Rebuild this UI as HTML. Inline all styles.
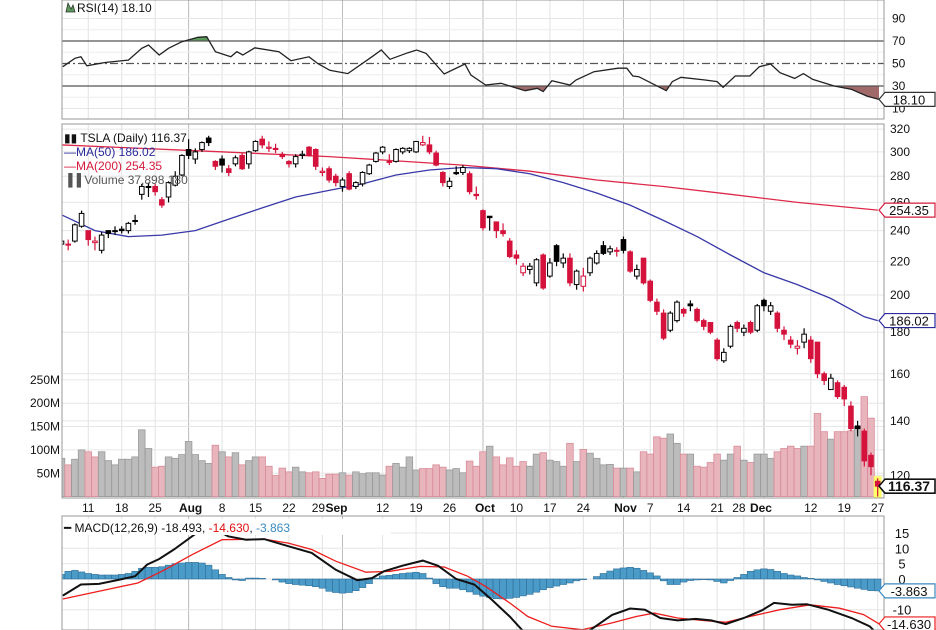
<!DOCTYPE html>
<html><head><meta charset="utf-8"><style>
html,body{margin:0;padding:0;background:#fff;}
svg{display:block;font-family:"Liberation Sans",Arial,sans-serif;}
</style></head><body>
<svg id="chart" width="936" height="630" viewBox="0 0 936 630" xmlns="http://www.w3.org/2000/svg">
<defs>
<clipPath id="cR"><rect x="62" y="0" width="822" height="119"/></clipPath>
<clipPath id="cP"><rect x="62" y="124" width="822" height="374"/></clipPath>
<clipPath id="cM"><rect x="62" y="516" width="822" height="114"/></clipPath>
<clipPath id="cLow"><rect x="62" y="86" width="822" height="40"/></clipPath>
<clipPath id="cHigh"><rect x="62" y="0" width="822" height="41"/></clipPath>
</defs>
<g id="grid"></g>
<g id="rsi" clip-path="url(#cR)"></g>
<g id="vol" clip-path="url(#cP)"></g>
<g id="price" clip-path="url(#cP)"></g>
<g id="macd" clip-path="url(#cM)"></g>
<g id="axes"></g>
</svg>
<script>
const closes=[233,231,244,252,234,233,237,238,240,240,245,247,272,272,268,258,275,280,297,297,300,308,308,288,289,283,295,286,300,309,306,304,302,296,290,296,298,297,288,284,277,275,277,270,275,283,289,299,304,292,302,303,303,309,308,300,289,275,276,282,287,268,265,242,249,240,238,223,222,217,217,221,204,219,220,222,207,214,211,222,225,225,228,227,227,214,215,207,197,191,177,190,196,190,194,186,183,180,167,170,183,182,182,180,194,194,194,182,179,174,173,179,167,160,157,158,150,149,137,137,125,123,116.37];
const opens=[231,231,233,243,240,232,227,240,240,241,240,247,266,272,272,262,264,273,281,302,294,302,312,292,294,286,290,297,290,301,311,303,303,298,292,290,297,304,302,283,286,280,272,282,272,274,282,292,300,292,292,300,301,300,306,306,299,283,272,283,283,282,266,254,250,246,240,233,224,213,215,207,224,211,230,219,222,206,205,213,219,230,226,227,234,226,211,222,208,196,190,181,186,192,195,192,186,185,176,166,173,185,180,185,181,197,191,190,181,176,172,175,176,175,160,153,156,154,146,138,136,127,118];
const highs=[234,234,245,254,240,236,239,240,243,243,246,251,274,275,274,264,276,284,298,311,303,309,314,293,297,289,297,299,301,310,314,309,307,300,293,298,301,305,303,287,288,282,279,284,276,284,290,300,305,298,303,304,304,309,314,313,301,284,279,288,289,284,272,255,250,246,245,235,227,219,219,222,225,222,231,225,225,215,216,223,227,233,230,229,236,227,218,222,209,198,192,191,197,193,197,193,187,185,177,172,184,186,184,186,195,198,196,191,183,178,176,182,178,175,161,160,157,155,148,140,137,128,119];
const lows=[225,227,232,242,230,227,225,235,237,238,238,244,262,264,265,256,260,272,280,294,290,300,305,285,283,280,288,285,286,300,303,300,299,294,287,287,294,296,285,280,275,272,268,269,270,272,281,291,298,289,291,298,299,299,305,298,288,272,270,281,281,266,262,240,240,235,236,222,218,211,212,205,203,210,217,216,205,203,202,211,218,224,224,223,225,213,209,206,196,189,176,180,185,188,191,185,181,179,166,165,172,180,178,179,180,191,189,180,176,172,169,172,165,158,155,153,149,146,136,134,123,120,113];
const volumes=[82,68,80,100,96,85,96,77,68,80,80,85,143,103,63,65,85,82,90,118,90,77,71,110,96,85,94,68,77,85,85,65,45,61,53,63,53,51,53,39,48,48,51,46,53,49,51,51,46,65,71,63,85,57,60,60,68,63,57,60,51,76,65,96,108,85,68,83,65,75,65,91,94,78,75,65,114,75,101,93,82,68,69,61,61,61,53,96,91,128,125,134,114,91,91,65,63,73,91,78,91,108,78,73,91,91,82,96,103,108,103,108,108,178,139,123,139,139,141,150,214,168,38];
const ma50Idx=[0,5,10,15,20,25,30,35,40,45,50,55,60,65,70,75,80,85,90,95,100,105,110,115,120,122];
const ma50Val=[251,240,236,237,240,248,256,264,269,274,281,285,287,286,282,275,267,258,247,236,224,213,206,198,188,186.02];
const ma200Idx=[0,20,40,60,70,80,90,100,110,122];
const ma200Val=[306,301,296,289,284,277,272,266,260,254.35];
const rsiIdx=[0.2,2,2.9,3.8,6.5,10,12,13,14.6,16,18,20.4,21.7,23,25.3,26.2,27.1,28.9,32.5,34.3,37,38.3,40.1,42.8,46.4,47.8,49.1,51.8,53.1,54.5,57.2,60.3,61.2,63.4,65.7,69.3,71.1,72,73.3,76,76.9,79.6,83.2,84.5,85.4,86.3,90.4,91.3,92.6,96.2,98,98.9,100.7,102.9,104.3,106,107.4,109.6,110.9,112.3,115.5,118.1,120.4,122.2];
const rsiVal=[47.2,54.6,56,48,50.9,53,63.5,66.4,57.6,63.5,69.4,73.3,73.8,60.5,56,60.5,57.6,64,60.5,52.5,56,50,44,41,56,62,53.7,59.6,62,59,40.7,49.6,39.8,30.9,32.4,25.8,28,25,34.7,30.9,35.3,42.7,45.8,45.8,38.9,38.3,25.8,33.9,37.7,35.3,33.9,28.8,38.9,38.9,47.2,49.6,41.8,36.8,41,35.9,30,27,21,18.1];
const macdIdx=[0.2,2.9,5.6,8.7,11,12.8,14.6,16.8,19.9,22.2,24.9,27.6,30.3,33.9,37.4,41,44.2,46.4,48.2,50.9,54,56.3,59,61.7,64.3,67,68.8,71.5,75,79.1,82.3,85,87.2,89.5,92.1,94.8,97.1,99.3,102,104.7,106.5,109.2,111.4,114.6,118.1,120.8,122.2];
const macdVal=[-5.4,-1.8,-1.6,-0.2,0.9,4.7,6.5,9.6,14.5,17,13.9,12.8,13,10.7,8.5,3,-0.4,0.3,2.5,4.3,6,4.3,0,-1.8,-6.7,-12.2,-16.5,-20,-21,-16.5,-11.7,-9.6,-10,-12.7,-13.5,-13,-13.5,-14.7,-12.7,-10.2,-7.8,-8.4,-8.2,-10,-12.7,-15.4,-18.5];
const sigIdx=[0.2,5.6,11.4,15,19.5,24,30.3,33.9,37.4,41,45.5,49.1,53.6,57.2,60.7,63.4,67,69.7,73.3,77.8,82.3,85.9,88.6,92.1,95.7,99.3,102.9,107.4,111.9,116.3,119.9,122.2];
const sigVal=[-6.5,-4,-1.3,2.5,7.9,12.8,13,11.7,9.6,5.8,2.2,2.5,4.1,3.9,0.9,-2.4,-7.8,-12.2,-15.4,-16.5,-14.3,-12.2,-11.1,-12.7,-13.5,-14.1,-12.2,-10,-8.4,-9.5,-11.6,-14.6];
const hist=[1.5,2.5,2.8,2.3,1.8,1.5,1.3,1.3,1.3,1.5,1.8,2.5,3.5,3.8,3.8,4,4.5,5,5.2,5.4,5.4,5.2,4.5,3,1.5,0.5,-0.3,-0.5,0.3,0.3,0.2,0,-0.3,-1,-1.5,-1.8,-2,-2.2,-2.5,-3,-4,-4.4,-4.6,-4.4,-3.8,-2.8,-1.5,0.3,1,1.2,1.5,1.8,2,2.2,1.8,0.3,-1.5,-2.5,-3,-3,-3.5,-4.2,-5,-5.6,-6,-6.4,-6.5,-6.3,-6,-5.5,-5,-4.3,-3.5,-2.8,-2.3,-1.8,-1.3,-0.6,-0.2,0,0.8,1.8,2.6,3.3,3.6,3.8,3.5,2.8,2,1,-0.6,-1.8,-1.8,-1,-0.5,-0.3,-0.2,-0.3,-0.8,-1.3,-0.5,0.5,1.5,2.5,3,3.3,3.1,2.5,1.8,1.3,1,0.5,0.2,-0.3,-0.8,-1.3,-1.8,-2.2,-2.6,-3,-3.4,-3.8,-3.863];
const weekIdx=[4,9,14,19,24,29,34,39,42,48,53,58,63,68,73,78,84,88,93,98,102,105,112,117,122];
const weekLbl=["11","18","25","Aug","8","15","22","29","Sep","12","19","26","Oct","10","17","24","Nov","7","14","21","28","Dec","12","19","27"];
const priceTicks=[320,300,280,260,240,220,200,180,160,140,120];
const volTicks=[250,200,150,100,50];
const rsiTicks=[90,70,50,30,10];
const macdTicks=[15,10,5,0,-10];

const NS="http://www.w3.org/2000/svg";
const X=i=>61.5+6.69*i;
const yP=p=>295-353*Math.log(p/200);
const yV=v=>496.6-0.467*v;
const yR=v=>86-(v-30)*1.125;
const yM=v=>579-3.07*v;
function mk(tag,attrs,parent,txt){const e=document.createElementNS(NS,tag);for(const k in attrs)e.setAttribute(k,attrs[k]);if(txt!==undefined)e.textContent=txt;parent.appendChild(e);return e;}
const G=id=>document.getElementById(id);
const grid=G('grid'),rsi=G('rsi'),vol=G('vol'),price=G('price'),macd=G('macd'),axes=G('axes');
const monthLbl={"Aug":1,"Sep":1,"Oct":1,"Nov":1,"Dec":1};
const lblShift={"29":-4,"Sep":-6,"28":-5,"Dec":-3};

weekIdx.forEach((wi,k)=>{const x=X(wi);const dark=monthLbl[weekLbl[k]];
 [[0,119],[124,498],[516,630]].forEach(r=>{const l=mk('line',{x1:x,x2:x,y1:r[0],y2:r[1],stroke:dark?'#bbb':'#e2e2e2','stroke-width':1},grid);
 
 });
 const sh=(lblShift[weekLbl[k]]||0)+(dark&&!lblShift[weekLbl[k]]?2:0);
 const t=mk('text',{x:x+sh,y:512,'font-size':12,'text-anchor':'middle','font-weight':dark?'bold':'normal',fill:'#111'},axes,weekLbl[k]);
 
 
});
priceTicks.forEach(p=>{const y=yP(p);const l=mk('line',{x1:62,x2:884,y1:y,y2:y,stroke:'#e6e6e6'},grid);
 
 
 const t=mk('text',{x:890,y:y+4,'font-size':12,fill:'#111'},axes,String(p));
 
 });
volTicks.forEach(v=>{const y=yV(v);const l=mk('line',{x1:62,x2:884,y1:y,y2:y,stroke:'#e6e6e6'},grid);
 
 
 const t=mk('text',{x:60,y:y+4,'font-size':12,'text-anchor':'end',fill:'#111'},axes,v+'M');
 
 });
rsiTicks.forEach(v=>{const y=yR(v);
 const t=mk('text',{x:892,y:y+4,'font-size':12,fill:'#111'},axes,String(v));
 
 
 if(v===90||v===10){const l=mk('line',{x1:62,x2:884,y1:y,y2:y,stroke:'#e6e6e6'},grid);
 
 }});
[20,40,60,80].forEach(v=>{const l=mk('line',{x1:62,x2:884,y1:yR(v),y2:yR(v),stroke:'#eee'},grid);
 
 });
macdTicks.forEach(v=>{const y=yM(v);const l=mk('line',{x1:62,x2:884,y1:y,y2:y,stroke:'#e6e6e6'},grid);
 
 
 const t=mk('text',{x:902,y:y+5,'font-size':13,'text-anchor':'middle',fill:'#111'},axes,String(v));
 
 });
[[62,0,822,119],[62,124,822,374],[62,516,822,114]].forEach(r=>{const f=mk('rect',{x:r[0],y:r[1],width:r[2],height:r[3],fill:'none',stroke:'#999'},axes);
 
 });

function pathOf(idx,val,yf){return idx.map((i,k)=>(k?'L':'M')+X(i).toFixed(1)+','+yf(val[k]).toFixed(1)).join(' ');}
const rp=pathOf(rsiIdx,rsiVal,yR);
const x0=X(rsiIdx[0]),x1=X(rsiIdx[rsiIdx.length-1]);
const fl=mk('path',{d:rp+` L${x1},${yR(30)} L${x0},${yR(30)} Z`,fill:'#a06a6a','clip-path':'url(#cLow)'},rsi);


const fh=mk('path',{d:rp+` L${x1},${yR(70)} L${x0},${yR(70)} Z`,fill:'#5a9a5a','clip-path':'url(#cHigh)'},rsi);


[[70,'none'],[30,'none'],[50,'8,3,2,3']].forEach(a=>{const l=mk('line',{x1:62,x2:884,y1:yR(a[0]),y2:yR(a[0]),stroke:'#555','stroke-width':1.3,'stroke-dasharray':a[1]},rsi);
 
 });
const rl=mk('path',{d:rp,fill:'none',stroke:'#222','stroke-width':1.3},rsi);



volumes.forEach((v,i)=>{const red=i>0&&closes[i]<closes[i-1];const y=yV(v);
 const b=mk('rect',{x:X(i)-3.3,y:y,width:6.6,height:496.6-y,fill:red?'#e8b5bd':'#bcbcbc',stroke:red?'#d98c98':'#9a9a9a','stroke-width':0.8},vol);
 
 });

const m200=mk('path',{d:pathOf(ma200Idx,ma200Val,yP),fill:'none',stroke:'#dd2a4a','stroke-width':1.3},price);


const m50=mk('path',{d:pathOf(ma50Idx,ma50Val,yP),fill:'none',stroke:'#3838a8','stroke-width':1.3},price);



const hl=mk('rect',{x:X(122)-4,y:yP(highs[122])-2,width:8,height:yP(lows[122])-yP(highs[122])+4,fill:'#ffff66'},price);


closes.forEach((c,i)=>{const o=opens[i];const red=i>0&&c<closes[i-1];const col=red?'#d4123c':'#000';const x=X(i);
 const w=mk('line',{x1:x,x2:x,y1:yP(highs[i]),y2:yP(lows[i]),stroke:col,'stroke-width':1.2},price);
 
 
 const yt=yP(Math.max(o,c)),yb=yP(Math.min(o,c));
 const b=mk('rect',{x:x-2.3,y:yt,width:4.6,height:Math.max(1,yb-yt),fill:c<o?col:'#fff',stroke:col,'stroke-width':1},price);
 
 });

hist.forEach((h,i)=>{const y0=yM(0),y=yM(h);
 const b=mk('rect',{x:X(i)-3.3,y:Math.min(y0,y),width:6.6,height:Math.abs(y-y0),fill:'#4b9bc9',stroke:'#2f6f99','stroke-width':0.6},macd);
 
 });
const sl=mk('path',{d:pathOf(sigIdx,sigVal,yM),fill:'none',stroke:'#ee1c1c','stroke-width':1.3},macd);


const ml=mk('path',{d:pathOf(macdIdx,macdVal,yM),fill:'none',stroke:'#111','stroke-width':2},macd);



function legend(x,y,parts,name){const t=mk('text',{x:x,y:y,'font-size':12},axes);
 
 
 parts.forEach(p=>{mk('tspan',{fill:p[1]},t,p[0]);});return t;}
const ri=mk('path',{d:'M66,12 L68,3 L71,9 L73,5 L75,12 Z',fill:'#5a9a5a',stroke:'#333','stroke-width':0.8},axes);


legend(77,12,[["RSI(14) 18.10",'#111']],'rsi-legend');
legend(64,142,[["\u25AE\u25AE TSLA (Daily) 116.37",'#111']],'price-legend');
legend(64,156,[["\u2014MA(50) 186.02",'#2a2a9a']],'ma50-legend');
legend(64,170,[["\u2014MA(200) 254.35",'#d41a3c']],'ma200-legend');
legend(64,184,[["\u2590\u2590 Volume 37,898,180",'#555']],'volume-legend');
const mb=mk('rect',{x:63,y:519,width:328,height:16,fill:'#fff'},axes);


legend(64,532,[["\u2501 MACD(12,26,9) -18.493",'#111'],[", ",'#111'],["-14.630",'#e01010'],[", ",'#111'],["-3.863",'#3a8ac0']],'macd-legend');

function tag(y,txt,col,bold,name){const g=mk('g',{},axes);
 
 
 mk('path',{d:`M${879},${y} L${885},${y-7} L${935},${y-7} L${935},${y+7} L${885},${y+7} Z`,fill:'#fff',stroke:col,'stroke-width':bold?1.6:1.2},g);
 mk('text',{x:909,y:y+5,'font-size':bold?14:13,'font-weight':bold?'bold':'normal','text-anchor':'middle',fill:'#111'},g,txt);}
tag(yR(18.1),'18.10','#333',false,'rsi-value-tag');
tag(yP(254.35),'254.35','#d41a3c',false,'ma200-value-tag');
tag(yP(186.02),'186.02','#2a2a9a',false,'ma50-value-tag');
tag(yP(116.37),'116.37','#111',true,'last-price-tag');
tag(yM(-3.863),'-3.863','#3a8ac0',false,'histogram-value-tag');
tag(yM(-18.493),'-18.493','#111',false,'macd-value-tag');
tag(yM(-14.63),'-14.630','#ee1c1c',false,'signal-value-tag');
</script>
</body></html>
